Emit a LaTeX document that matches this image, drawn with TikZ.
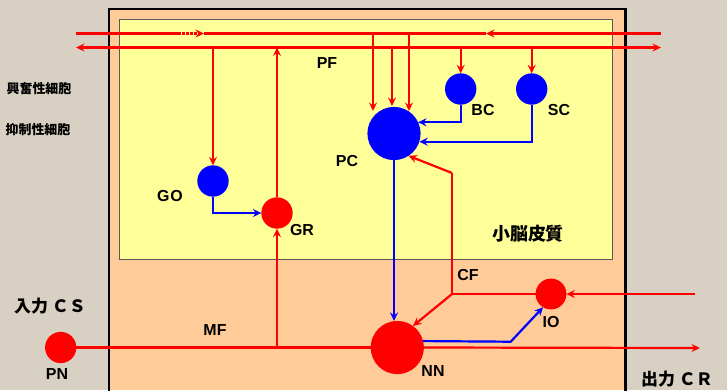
\documentclass[tikz,border=0pt]{standalone}
\usepackage{fontspec}
\setmainfont{Liberation Sans}
\newfontfamily\jpfont{Noto Sans CJK JP}
\usetikzlibrary{arrows.meta}
\definecolor{bgtex}{HTML}{D8D1C3}
\definecolor{cortex}{HTML}{FFCC99}
\definecolor{cortin}{HTML}{FFFF99}
\tikzset{
  cellr/.style={circle, fill=red, inner sep=0pt, outer sep=0pt, minimum size=#1},
  cellb/.style={circle, fill=blue, inner sep=0pt, outer sep=0pt, minimum size=#1},
  axr/.style={draw=red, line width=2.2bp},
  axb/.style={draw=blue, line width=2.2bp},
  arr/.style={-{Stealth[length=8.5bp,width=8bp,inset=3bp]}},
  barr/.style={{Stealth[length=8.5bp,width=8bp,inset=3bp]}-{Stealth[length=8.5bp,width=8bp,inset=3bp]}},
  lbl/.style={font=\fontsize{16}{16}\selectfont\bfseries},
  jlbl/.style={font=\jpfont\bfseries\fontsize{#1}{#1}\selectfont}
}
\begin{document}
\begin{tikzpicture}[x=1bp, y=-1bp]
  \useasboundingbox (0,0) rectangle (727,390);
  \fill[bgtex] (0,0) rectangle (727,390);

  % cerebellum and cortex
  \fill[cortex] (109,9) rectangle (625.5,390);
  \draw[line width=2.5bp] (109,391) -- (109,9) -- (625.5,9) -- (625.5,391);
  \draw[fill=cortin, draw=black!65, line width=1bp] (119,19) rectangle (612,259);

  % cells
  \node[cellb=31.5] (GO) at (213,181) {};
  \node[cellr=31.5] (GR) at (277,213) {};
  \node[cellb=53.4] (PC) at (394,133.5) {};
  \node[cellb=31.5] (BC) at (460.7,89) {};
  \node[cellb=31.5] (SC) at (531.7,89) {};
  \node[cellr=31.4] (PN) at (60.7,347.5) {};
  \node[cellr=53.4] (NN) at (397.3,347.5) {};
  \node[cellr=31] (IO) at (551,294) {};

  % parallel fibres
  \coordinate (pf1w) at (76,33.5);
  \coordinate (pf1e) at (661,33.5);
  \coordinate (pfd)  at (178,33.5);
  \coordinate (pfm1) at (204,33.5);
  \coordinate (pfm2) at (486,33.5);
  \coordinate (pf2w) at (76,47.5);
  \coordinate (pf2e) at (661,47.5);
  \draw[axr] (pf1w) -- (pfd);
  \draw[axr, arr, dash pattern=on 2.5bp off 1.5bp] (pfd) -- (pfm1);
  \draw[axr] (pfm1) -- (pfm2);
  \draw[axr, arr] (pf1e) -- (pfm2);
  \draw[axr, barr] (pf2w) -- (pf2e);

  % PF -> cells
  \coordinate (pa) at (373,111);
  \coordinate (pb) at (392,106);
  \coordinate (pc) at (409,111);
  \draw[axr, arr] (pa |- pf1w) -- (pa);
  \draw[axr, arr] (pb |- pf2w) -- (pb);
  \draw[axr, arr] (pc |- pf1w) -- (pc);
  \draw[axr, arr] (GO.north |- pf2w) -- (GO.north);
  \draw[axr, arr] (BC.north |- pf2w) -- (BC.north);
  \draw[axr, arr] (SC.north |- pf2w) -- (SC.north);
  \draw[axr, arr] (GR.north) -- (GR.north |- pf2w);

  % inhibitory links
  \draw[axb, arr] (GO.south) |- (GR.west);
  \draw[axb, arr] (BC.south) |- (PC.25);
  \draw[axb, arr] (SC.south) |- (PC.-18);
  \draw[axb, arr] (PC.south) -- (PC.south |- NN.north);
  \coordinate (nnk) at (510.7,341.7);
  \draw[axb, arr] (NN.14) -- (nnk) -- (IO.-121);

  % mossy fibre and output
  \coordinate (crout) at (700,348);
  \draw[axr] (PN.east) -- (NN.west);
  \draw[axr, arr] (NN.east) -- (crout);
  \draw[axr, arr] (GR.south |- PN.east) -- (GR.south);

  % climbing fibre
  \coordinate (crin) at (695,294);
  \coordinate (cfk) at (452,294);
  \coordinate (cft) at (452,173);
  \draw[axr, arr] (crin) -- (IO.east);
  \draw[axr] (IO.west) -- (cfk) -- (cft);
  \draw[axr, arr] (cft) -- (PC.-57);
  \draw[axr, arr] (cfk) -- (NN.54);

  % labels
  \node[lbl] (lPF) at (327,63) {PF};
  \node[lbl] (lBC) at (483,110) {BC};
  \node[lbl] (lSC) at (559,110) {SC};
  \node[lbl] (lPC) at (347,161) {PC};
  \node[lbl] (lGO) at (170,196) {G\kern1bp O};
  \node[lbl] (lGR) at (302,230) {GR};
  \node[lbl] (lMF) at (215,330) {MF};
  \node[lbl] (lCF) at (468,275) {CF};
  \node[lbl] (lIO) at (551,322) {IO};
  \node[lbl] (lPN) at (57,374) {PN};
  \node[lbl] (lNN) at (433,371) {NN};
  \node[jlbl=18] (lctx) at (528,234) {小脳皮質};
  \node[jlbl=13] (lexc) at (39,89) {興奮性細胞};
  \node[jlbl=13] (linh) at (38,130) {抑制性細胞};
  \node[jlbl=17] (lin) at (50,306) {入力 ＣＳ};
  \node[jlbl=17] (lout) at (677,379) {出力 ＣＲ};
\end{tikzpicture}
\end{document}
